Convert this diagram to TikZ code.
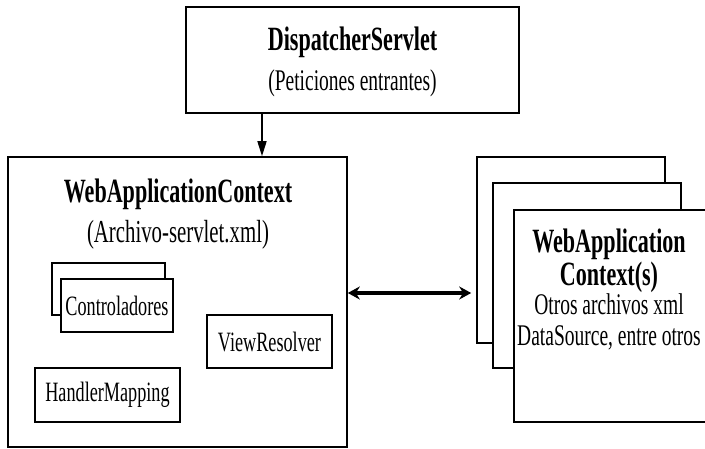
\documentclass[tikz,border=0pt]{standalone}
\usepackage{fontspec}
\setmainfont[FakeStretch=0.65]{Liberation Serif}
\usetikzlibrary{arrows.meta}

\begin{document}
\begin{tikzpicture}[x=1pt,y=-1pt,
  caja/.style={draw,line width=1.6pt,fill=white,inner sep=0pt},
  titulo/.style={anchor=base,font=\fontsize{34}{38}\selectfont\bfseries},
  subtitulo/.style={anchor=base,font=\fontsize{30}{34}\selectfont},
  interno/.style={caja,font=\fontsize{28}{32}\selectfont}]
\useasboundingbox (0,0) rectangle (705,449);
% servlet de entrada
\node[caja,minimum width=333,minimum height=106] (disp) at (352.5,60) {};
\node[titulo] (dispT) at (352.5,51) {DispatcherServlet};
\node[subtitulo] (dispS) at (352.5,91) {(Peticiones entrantes)};
% contexto principal
\node[caja,minimum width=339,minimum height=290] (wac) at (177.5,302) {};
\node[titulo] (wacT) at (178,203) {WebApplicationContext};
\node[subtitulo,font=\fontsize{32}{36}\selectfont] (wacS) at (178,243) {(Archivo-servlet.xml)};
\node[caja,minimum width=113,minimum height=52] (ctrlB) at (108.5,289) {};
\node[interno,minimum width=112,minimum height=53] (ctrl) at (117,305.5) {Controladores};
\node[interno,minimum width=125,minimum height=53] (view) at (269.5,341.5) {ViewResolver};
\node[interno,minimum width=145,minimum height=54] (handler) at (107.5,395) {HandlerMapping};
% otros contextos apilados
\node[caja,minimum width=188,minimum height=186] (ctxA) at (571,250) {};
\node[caja,minimum width=188,minimum height=185] (ctxB) at (587,275.5) {};
\node[caja,minimum width=196,minimum height=212] (ctxC) at (612,316) {};
\node[titulo] (ctxT1) at (609,253) {WebApplication};
\node[titulo] (ctxT2) at (609,286) {Context(s)};
\node[subtitulo] (ctxS1) at (609,315) {Otros archivos xml};
\node[subtitulo] (ctxS2) at (609,345) {DataSource, entre otros};
% conexiones
\coordinate (bajada) at (262,0);
\coordinate (enlace) at (0,293);
\draw[line width=1.6pt,-{Triangle[width=9pt,length=15pt]}] (disp.south -| bajada) -- (wac.north -| bajada);
\draw[line width=3.5pt,{Stealth[length=12pt,width=13pt]}-{Stealth[length=12pt,width=13pt]},shorten >=5pt]
  (wac.east |- enlace) -- (ctxA.west |- enlace);
\end{tikzpicture}
\end{document}
